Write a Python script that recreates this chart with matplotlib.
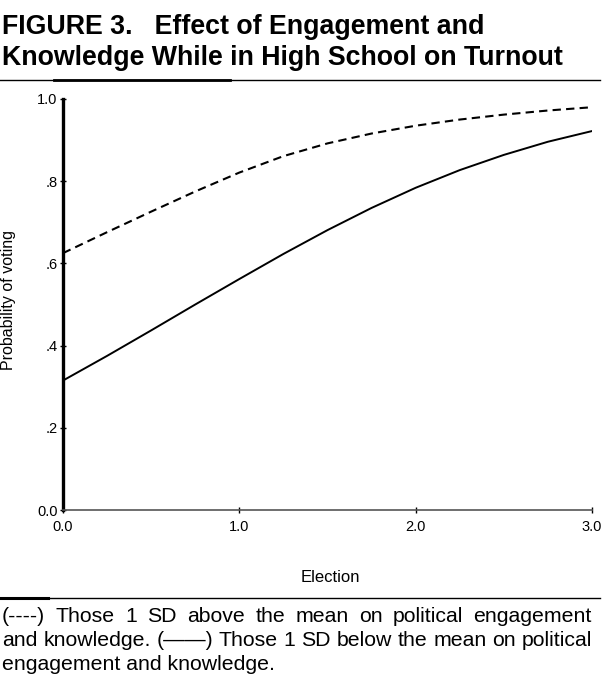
import numpy as np
import matplotlib
matplotlib.use("Agg")
from matplotlib import pyplot as plt
from matplotlib.lines import Line2D

election = [0.0, 0.25, 0.5, 0.75, 1.0, 1.25, 1.5, 1.75, 2.0, 2.25, 2.5, 2.75, 3.0]
above_sd = [0.625, 0.676, 0.726, 0.775, 0.821, 0.861, 0.892, 0.916, 0.935, 0.950, 0.962, 0.972, 0.980]
below_sd = [0.315, 0.375, 0.437, 0.5, 0.562, 0.623, 0.681, 0.735, 0.784, 0.827, 0.864, 0.896, 0.922]

y_ticks = [0.0, 0.2, 0.4, 0.6, 0.8, 1.0]
y_ticklabels = ["0.0", ".2", ".4", ".6", ".8", "1.0"]
x_ticks = [0.0, 1.0, 2.0, 3.0]
x_ticklabels = ["0.0", "1.0", "2.0", "3.0"]

title_lines = ["FIGURE 3.   Effect of Engagement and",
               "Knowledge While in High School on Turnout"]
caption_lines = ["(----) Those 1 SD above the mean on political engagement",
                 "and knowledge. (\u2014\u2014) Those 1 SD below the mean on political",
                 "engagement and knowledge."]

plt.rcParams['font.family'] = ['Liberation Sans', 'DejaVu Sans']

W, H = 603, 683
fig = plt.figure(figsize=(W/100, H/100), dpi=100)
ax = fig.add_axes([63/W, 1-510/H, (592-63)/W, (510-99)/H])

ax.plot(election, above_sd, color='black', lw=1.5, linestyle=(0, (4, 2.5)))
ax.plot(election, below_sd, color='black', lw=1.4)

ax.set_xlim(0, 3)
ax.set_ylim(0, 1)
ax.set_xticks(x_ticks)
ax.set_xticklabels(x_ticklabels)
ax.set_yticks(y_ticks)
ax.set_yticklabels(y_ticklabels)
ax.tick_params(axis='both', direction='inout', length=4, width=1, labelsize=10.5, pad=2)
ax.tick_params(axis='x', pad=5)
for s in ['top', 'right']:
    ax.spines[s].set_visible(False)
ax.spines['left'].set_linewidth(2.4)
ax.spines['bottom'].set_linewidth(1.2)
ax.spines['bottom'].set_color('#555555')

fig.text(330/W, 1-577/H, "Election", ha='center', va='center', fontsize=12)
fig.text(9/W, 1-300/H, "Probability of voting", ha='center', va='center',
         rotation=90, fontsize=11.5)

# header
fig.text(2/W, 1-27/H, title_lines[0], ha='left', va='center', fontsize=19.3, fontweight='bold')
fig.text(2/W, 1-58/H, title_lines[1], ha='left', va='center', fontsize=19.3, fontweight='bold')
fig.add_artist(Line2D([0, 600/W], [1-80/H, 1-80/H], color='black', lw=1))
fig.add_artist(Line2D([54/W, 230/W], [1-80/H, 1-80/H], color='black', lw=2))

# footnote rule
fig.add_artist(Line2D([0, 600/W], [1-598/H, 1-598/H], color='black', lw=1))
fig.add_artist(Line2D([0, 48/W], [1-598/H, 1-598/H], color='black', lw=2.2))

# justified caption
fig.canvas.draw()
renderer = fig.canvas.get_renderer()
x0, x1 = 2, 592
ys = [617, 641, 665]
fs = 15.3
for i, line in enumerate(caption_lines):
    words = line.split(' ')
    if i == len(caption_lines) - 1:
        fig.text(x0/W, 1-ys[i]/H, line, ha='left', va='center', fontsize=fs)
        continue
    arts = [fig.text(0, 1-ys[i]/H, w, ha='left', va='center', fontsize=fs) for w in words]
    widths = [a.get_window_extent(renderer).width for a in arts]
    gap = (x1 - x0 - sum(widths)) / (len(words) - 1)
    x = x0
    for a, w in zip(arts, widths):
        a.set_x(x/W)
        x += w + gap

fig.savefig("out.png", dpi=100)
